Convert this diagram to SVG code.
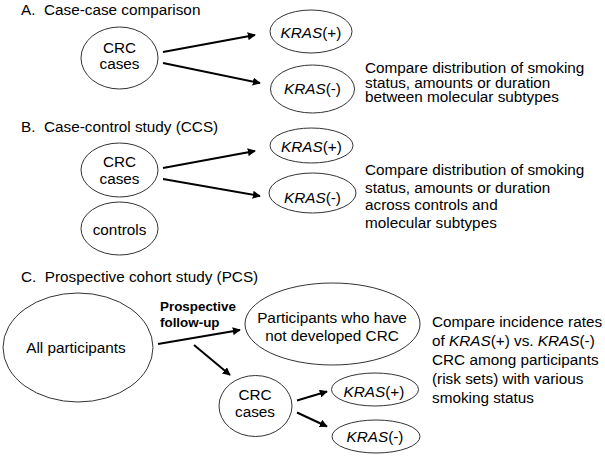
<svg xmlns="http://www.w3.org/2000/svg" width="605" height="457" viewBox="0 0 605 457">
<style>
text{font-family:"Liberation Sans",Arial,sans-serif;font-size:15.3px;fill:#000}
.t{white-space:pre}
.c{text-anchor:middle}
.b{font-weight:bold;font-size:13.4px}
ellipse{fill:#fff;stroke:#333;stroke-width:1}
.ar line{stroke:#000;stroke-width:2}
</style>
<defs>
<marker id="ah" viewBox="0 0 10 10" refX="9" refY="5" markerWidth="4" markerHeight="4" orient="auto" markerUnits="strokeWidth">
<path d="M0,0 L10,5 L0,10 z" fill="#000"/>
</marker>
</defs>
<text class="t" x="21" y="15">A.  Case-case comparison</text>
<text class="t" x="21" y="132">B.  Case-control study (CCS)</text>
<text class="t" x="21" y="282">C.  Prospective cohort study (PCS)</text>

<g id="connectors" class="ar">
<line x1="163" y1="52" x2="255" y2="35" marker-end="url(#ah)"/>
<line x1="163" y1="63" x2="260" y2="83" marker-end="url(#ah)"/>
<line x1="163" y1="168" x2="255" y2="151" marker-end="url(#ah)"/>
<line x1="163" y1="179" x2="260" y2="196" marker-end="url(#ah)"/>
<line x1="158" y1="344" x2="240" y2="330" marker-end="url(#ah)"/>
<line x1="194" y1="345" x2="230" y2="375" marker-end="url(#ah)"/>
<line x1="297" y1="400.5" x2="327" y2="391.5" marker-end="url(#ah)"/>
<line x1="297" y1="412.5" x2="327" y2="426.5" marker-end="url(#ah)"/>
</g>

<g id="a-crc">
<ellipse cx="119.5" cy="58" rx="38.5" ry="31"/>
<text class="c" x="119.5" y="52.5">CRC</text>
<text class="c" x="119.5" y="69">cases</text>
</g>
<g id="a-kras-pos">
<ellipse cx="311" cy="31.5" rx="41" ry="21.5"/>
<text class="c" x="311" y="37.5"><tspan font-style="italic">KRAS</tspan>(+)</text>
</g>
<g id="a-kras-neg">
<ellipse cx="312.5" cy="89" rx="42" ry="24"/>
<text class="c" x="312.5" y="94"><tspan font-style="italic">KRAS</tspan>(-)</text>
</g>
<g id="a-note">
<text x="365" y="73">Compare distribution of smoking</text>
<text x="365" y="87.5">status, amounts or duration</text>
<text x="365" y="102">between molecular subtypes</text>
</g>

<g id="b-crc">
<ellipse cx="119.5" cy="170" rx="38.5" ry="27"/>
<text class="c" x="119.5" y="166.5">CRC</text>
<text class="c" x="119.5" y="184">cases</text>
</g>
<g id="b-controls">
<ellipse cx="119.5" cy="228.5" rx="38.5" ry="26.5"/>
<text class="c" x="119.5" y="235">controls</text>
</g>
<g id="b-kras-pos">
<ellipse cx="311.5" cy="145.5" rx="41.5" ry="17.5"/>
<text class="c" x="311.5" y="152"><tspan font-style="italic">KRAS</tspan>(+)</text>
</g>
<g id="b-kras-neg">
<ellipse cx="312.5" cy="193" rx="43.5" ry="20"/>
<text class="c" x="312.5" y="203"><tspan font-style="italic">KRAS</tspan>(-)</text>
</g>
<g id="b-note">
<text x="365" y="175">Compare distribution of smoking</text>
<text x="365" y="192.5">status, amounts or duration</text>
<text x="365" y="210">across controls and</text>
<text x="365" y="228">molecular subtypes</text>
</g>

<g id="c-all">
<ellipse cx="78" cy="347.5" rx="75" ry="54.5"/>
<text class="c" x="76" y="353">All participants</text>
</g>
<g id="c-label">
<text class="b" x="160" y="310.5">Prospective</text>
<text class="b" x="160" y="327">follow-up</text>
</g>
<g id="c-noncases">
<ellipse cx="332.5" cy="324" rx="87.5" ry="41"/>
<text class="c" x="332" y="322.5">Participants who have</text>
<text class="c" x="332" y="341">not developed CRC</text>
</g>
<g id="c-crc">
<ellipse cx="255.5" cy="406" rx="36.5" ry="30.5"/>
<text class="c" x="255" y="400">CRC</text>
<text class="c" x="255" y="417.3">cases</text>
</g>
<g id="c-kras-pos">
<ellipse cx="375" cy="389.5" rx="43.5" ry="16.5"/>
<text class="c" x="374" y="396.5"><tspan font-style="italic">KRAS</tspan>(+)</text>
</g>
<g id="c-kras-neg">
<ellipse cx="376" cy="436.5" rx="44" ry="16.5"/>
<text class="c" x="375" y="441.5"><tspan font-style="italic">KRAS</tspan>(-)</text>
</g>
<g id="c-note">
<text x="432" y="326.7">Compare incidence rates</text>
<text x="432" y="345.7">of <tspan font-style="italic">KRAS</tspan>(+) vs. <tspan font-style="italic">KRAS</tspan>(-)</text>
<text x="432" y="365">CRC among participants</text>
<text x="432" y="384">(risk sets) with various</text>
<text x="432" y="403">smoking status</text>
</g>
</svg>
